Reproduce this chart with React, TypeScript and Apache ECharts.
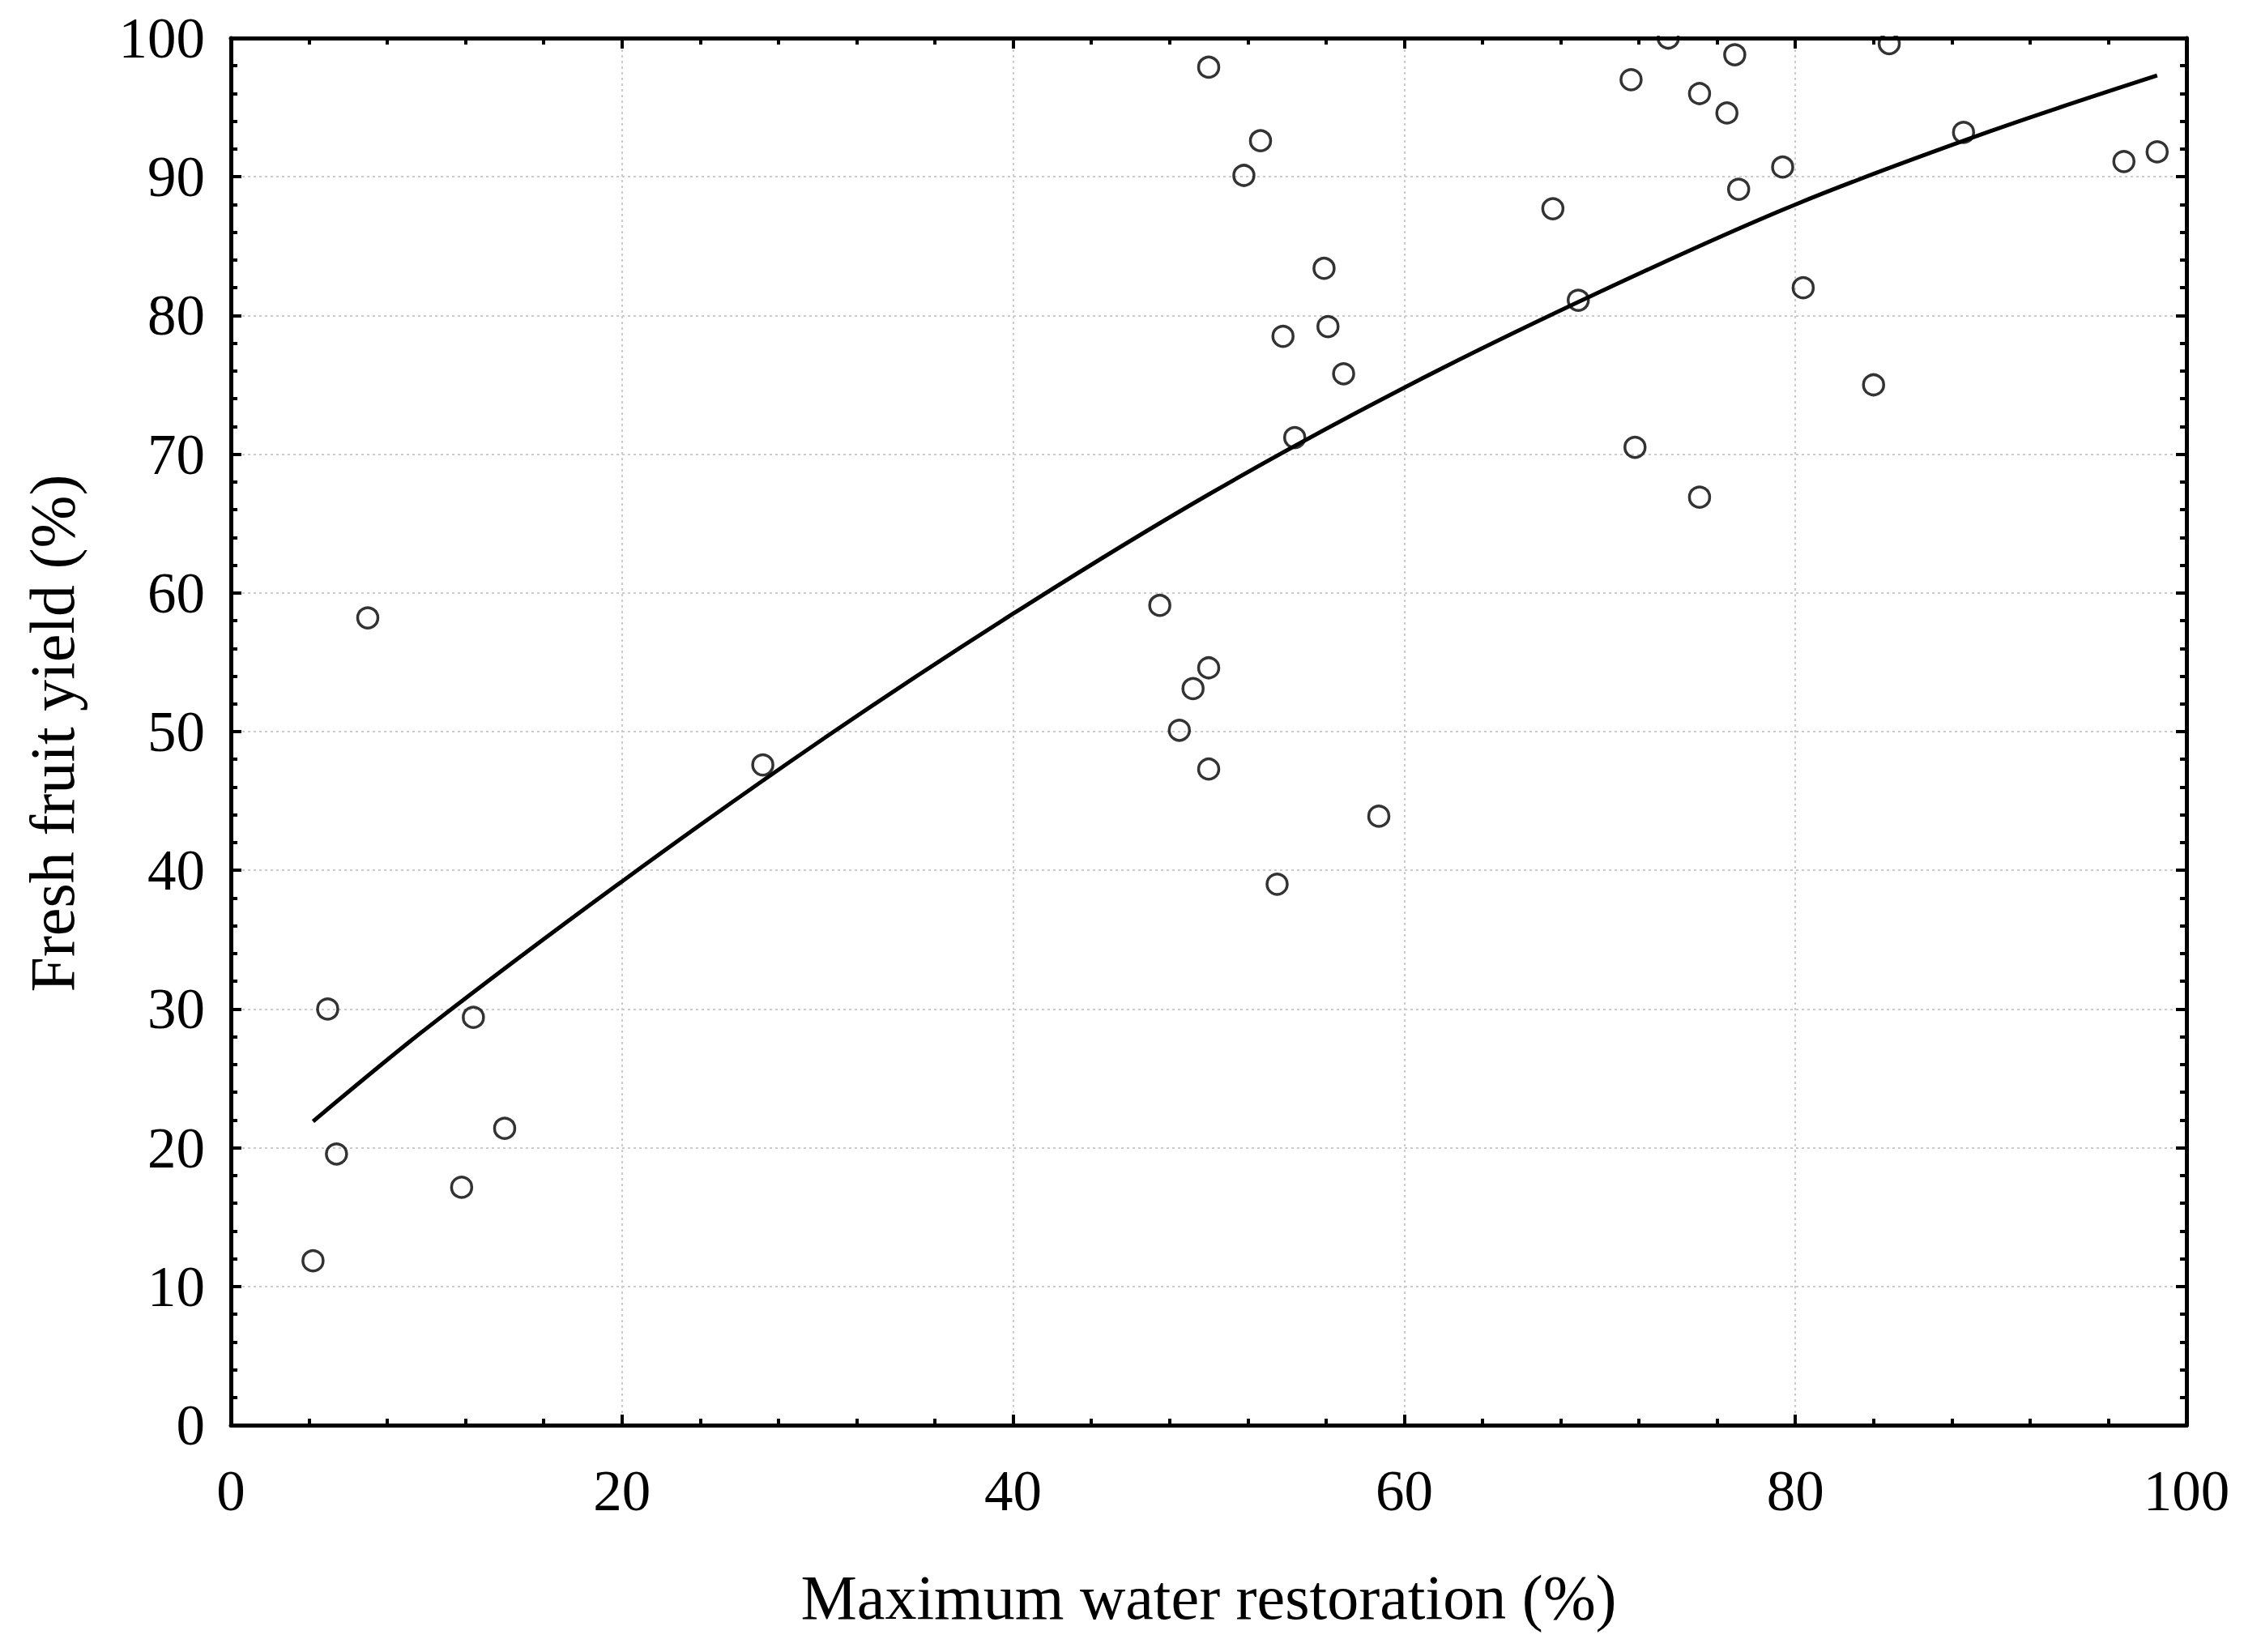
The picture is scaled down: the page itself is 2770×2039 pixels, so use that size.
import React, { useEffect, useRef } from "react";
import * as echarts from "echarts";

// Observed points: maximum water restoration (%) vs fresh fruit yield (%)
const X_VALUES = [
  4.2, 4.95, 5.4, 7.0, 11.8, 12.4, 14.0, 27.2, 47.5, 48.5, 49.2, 50.0, 50.0, 50.0,
  51.8, 52.65, 53.5, 53.8, 54.4, 55.9, 56.1, 56.9, 58.7, 67.6, 68.9, 71.6, 71.8,
  73.5, 75.1, 75.1, 76.5, 76.9, 77.1, 79.35, 80.4, 84.0, 84.8, 88.6, 96.8, 98.5,
];
const Y_VALUES = [
  11.85, 30.0, 19.55, 58.2, 17.15, 29.4, 21.4, 47.6, 59.1, 50.1, 53.1, 54.6, 47.3, 97.9,
  90.1, 92.6, 39.0, 78.5, 71.2, 83.4, 79.2, 75.8, 43.9, 87.7, 81.1, 97.0, 70.5,
  100.0, 96.0, 66.9, 94.6, 98.8, 89.1, 90.7, 82.0, 75.0, 99.6, 93.2, 91.1, 91.8,
];

// Fitted curve
const FIT_X = [4.2, 10, 20, 30, 40, 50, 60, 70, 80, 90, 98.5];
const FIT_Y = [21.9, 28.6, 39.2, 49.2, 58.5, 67.1, 74.8, 81.7, 88.0, 93.3, 97.3];

const X_TICKS = [0, 20, 40, 60, 80, 100];
const Y_TICKS = [0, 10, 20, 30, 40, 50, 60, 70, 80, 90, 100];

const X_TITLE = "Maximum water restoration (%)";
const Y_TITLE = "Fresh fruit yield (%)";

const FONT = "'Liberation Serif', 'DejaVu Serif', serif";

export default function App() {
  const ref = useRef<HTMLDivElement>(null);

  useEffect(() => {
    document.body.style.margin = "0";
    const chart = echarts.init(ref.current as HTMLDivElement, null, { renderer: "svg" });

    const xMin = X_TICKS[0];
    const xMax = X_TICKS[X_TICKS.length - 1];
    const xInt = X_TICKS[1] - X_TICKS[0];
    const yMin = Y_TICKS[0];
    const yMax = Y_TICKS[Y_TICKS.length - 1];
    const yInt = Y_TICKS[1] - Y_TICKS[0];

    const axisLine = { show: true, onZero: false, lineStyle: { color: "#000", width: 5 } };
    const axisTick = { show: true, inside: true, length: 13, lineStyle: { color: "#000", width: 4 } };
    const minorTick = { show: true, splitNumber: 5, length: 8, lineStyle: { color: "#000", width: 4 } };
    const splitLine = { show: true, lineStyle: { color: "#cccccc", width: 2, type: [3, 4] } };
    const axisLabel = { show: true, fontSize: 71, fontFamily: FONT, color: "#000" };

    const option: any = {
      animation: false,
      backgroundColor: "#ffffff",
      grid: { left: 285, right: 71, top: 47, bottom: 280, containLabel: false },
      xAxis: [
        {
          type: "value", min: xMin, max: xMax, interval: xInt, position: "bottom",
          axisLine, axisTick, minorTick, splitLine,
          axisLabel: { ...axisLabel, margin: 45 },
        },
        {
          type: "value", min: xMin, max: xMax, interval: xInt, position: "top",
          axisLine, axisTick, minorTick, splitLine: { show: false },
          axisLabel: { show: false },
        },
      ],
      yAxis: [
        {
          type: "value", min: yMin, max: yMax, interval: yInt, position: "left",
          axisLine, axisTick, minorTick, splitLine,
          axisLabel: { ...axisLabel, margin: 32 },
        },
        {
          type: "value", min: yMin, max: yMax, interval: yInt, position: "right",
          axisLine, axisTick, minorTick, splitLine: { show: false },
          axisLabel: { show: false },
        },
      ],
      series: [
        {
          type: "line",
          xAxisIndex: 0,
          yAxisIndex: 0,
          data: FIT_X.map((x, i) => [x, FIT_Y[i]]),
          showSymbol: false,
          smooth: 0.3,
          lineStyle: { color: "#000", width: 5 },
          z: 3,
        },
        {
          type: "scatter",
          xAxisIndex: 0,
          yAxisIndex: 0,
          data: X_VALUES.map((x, i) => [x, Y_VALUES[i]]),
          symbol: "circle",
          symbolSize: 25,
          itemStyle: { color: "rgba(0,0,0,0)", borderColor: "#000", borderWidth: 3.5 },
          clip: false,
          z: 4,
        },
      ],
      graphic: [
        {
          type: "rect",
          shape: { x: 290, y: 0, width: 2405, height: 44 },
          style: { fill: "#ffffff" },
          z: 100,
          silent: true,
        },
        {
          type: "text",
          x: 1492,
          y: 1971,
          style: {
            text: X_TITLE, fontSize: 78, fontFamily: FONT, fill: "#000",
            align: "center", verticalAlign: "middle",
          },
        },
        {
          type: "text",
          x: 64,
          y: 905,
          rotation: Math.PI / 2,
          style: {
            text: Y_TITLE, fontSize: 78, fontFamily: FONT, fill: "#000",
            align: "center", verticalAlign: "middle",
          },
        },
      ],
    };

    chart.setOption(option);
    return () => chart.dispose();
  }, []);

  return (
    <div
      ref={ref}
      style={{ position: "absolute", left: 0, top: 0, width: 2770, height: 2039, background: "#fff" }}
    />
  );
}
